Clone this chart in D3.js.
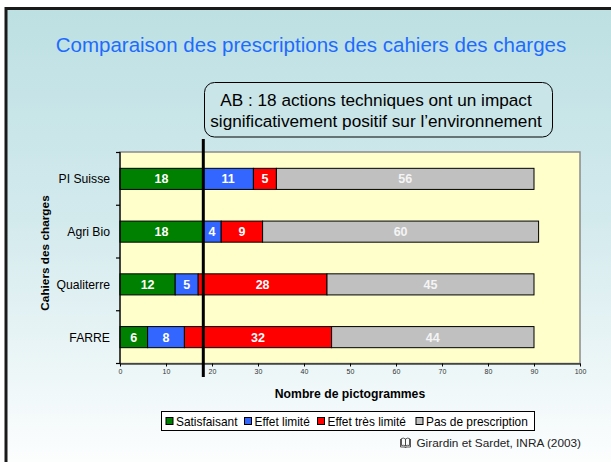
<!DOCTYPE html>
<html><head><meta charset="utf-8">
<script src="https://cdn.jsdelivr.net/npm/d3@7"></script>
<style>body{margin:0;padding:0;overflow:hidden;background:#fff}svg{display:block;font-family:Arial,"Liberation Sans",sans-serif}</style>
</head><body><svg id="c" width="611" height="462"></svg>
<script>
const categories = ["PI Suisse", "Agri Bio", "Qualiterre", "FARRE"];
const seriesNames = ["Satisfaisant", "Effet limité", "Effet très limité", "Pas de prescription"];
const satisfaisant = [18, 18, 12, 6];
const effetLimite = [11, 4, 5, 8];
const effetTresLimite = [5, 9, 28, 32];
const pasDePrescription = [56, 60, 45, 44];
const xTicks = [0, 10, 20, 30, 40, 50, 60, 70, 80, 90, 100];
const refValue = 18;
const colors = ["#008000", "#3366FF", "#FF0000", "#C0C0C0"];

const svg = d3.select("#c");
const defs = svg.append("defs");
const g = defs.append("linearGradient").attr("id","bg").attr("x1",0).attr("y1",0).attr("x2",0).attr("y2",1);
g.append("stop").attr("offset","0%").attr("stop-color","#BDE0E3");
g.append("stop").attr("offset","45%").attr("stop-color","#D3EAED");
g.append("stop").attr("offset","100%").attr("stop-color","#FFFFFF");

svg.append("rect").attr("x",0).attr("y",0).attr("width",611).attr("height",462).attr("fill","#fff");
svg.append("rect").attr("x",6).attr("y",8.5).attr("width",620).attr("height",470).attr("fill","url(#bg)")
  .attr("stroke","#1a1a1a").attr("stroke-width",3);

// title
svg.append("text").attr("x",311).attr("y",52).attr("text-anchor","middle")
  .attr("font-size",20.5).attr("fill","#1E6BFF").text("Comparaison des prescriptions des cahiers des charges");

const x = d3.scaleLinear().domain([0,100]).range([120,580]);
const y = d3.scaleBand().domain(categories).range([152.5,363.5]).paddingInner(0.6).paddingOuter(0.3);

// plot area
svg.append("rect").attr("x",x(0)).attr("y",152).attr("width",x(100)-x(0)).attr("height",211.5)
  .attr("fill","#FFFFCC").attr("stroke","#8a8a8a").attr("stroke-width",1.5);

const data = categories.map((c,i)=>({cat:c, vals:[satisfaisant[i],effetLimite[i],effetTresLimite[i],pasDePrescription[i]]}));
const segs = [];
data.forEach(d=>{ let acc=0; d.vals.forEach((v,k)=>{ segs.push({cat:d.cat,k,v,x0:acc,x1:acc+v}); acc+=v; }); });

svg.append("g").selectAll("rect").data(segs).join("rect")
  .attr("x",d=>x(d.x0)).attr("y",d=>y(d.cat)).attr("width",d=>x(d.x1)-x(d.x0)).attr("height",y.bandwidth())
  .attr("fill",d=>colors[d.k]).attr("stroke","#000").attr("stroke-width",1);

svg.append("g").selectAll("text").data(segs).join("text")
  .attr("x",d=>x((d.x0+d.x1)/2)).attr("y",d=>y(d.cat)+y.bandwidth()/2+4.5)
  .attr("text-anchor","middle").attr("font-size",12.5).attr("font-weight","bold")
  .attr("fill",d=>d.k===3?"#F4F4F4":"#fff").text(d=>d.v);

// y axis
const yAxis = svg.append("g");
yAxis.append("line").attr("x1",x(0)).attr("x2",x(0)).attr("y1",152).attr("y2",364).attr("stroke","#000").attr("stroke-width",1.2);
const bounds = [0,1,2,3].map(i=>y(categories[i])-y.step()*y.paddingInner()/2);
bounds.push(y(categories[3])+y.bandwidth()+y.step()*y.paddingInner()/2);
yAxis.selectAll("line.t").data(bounds).join("line").attr("class","t")
  .attr("x1",x(0)-4).attr("x2",x(0)).attr("y1",d=>d).attr("y2",d=>d).attr("stroke","#000").attr("stroke-width",1.2);
yAxis.selectAll("text").data(categories).join("text")
  .attr("x",110).attr("y",d=>y(d)+y.bandwidth()/2+4.5).attr("text-anchor","end")
  .attr("font-size",12.2).attr("fill","#000").text(d=>d);

svg.append("text").attr("transform","translate(49,253) rotate(-90)").attr("text-anchor","middle")
  .attr("font-size",11.8).attr("font-weight","bold").text("Cahiers des charges");

// x axis
const xa = svg.append("g").attr("transform","translate(0,363.5)")
  .call(d3.axisBottom(x).tickValues(xTicks).tickSize(3).tickSizeOuter(0).tickPadding(3));
xa.select(".domain").attr("stroke","#000").attr("stroke-width",1.2);
xa.selectAll("text").attr("font-size",7).attr("fill","#333").attr("font-family","Arial, 'Liberation Sans', sans-serif");
svg.append("text").attr("x",350).attr("y",397.5).attr("text-anchor","middle")
  .attr("font-size",12.2).attr("font-weight","bold").text("Nombre de pictogrammes");

// reference line
svg.append("line").attr("x1",x(refValue)+0.5).attr("x2",x(refValue)+0.5).attr("y1",139).attr("y2",377)
  .attr("stroke","#000").attr("stroke-width",3);

// callout
svg.append("rect").attr("x",204.5).attr("y",82.5).attr("width",348).attr("height",54.5).attr("rx",10)
  .attr("fill","#C9E5E8").attr("stroke","#000").attr("stroke-width",1);
const ct = svg.append("text").attr("text-anchor","middle").attr("font-size",17.2).attr("fill","#000");
ct.append("tspan").attr("x",376).attr("y",106).text("AB : 18 actions techniques ont un impact");
ct.append("tspan").attr("x",376).attr("y",127).text("significativement positif sur l’environnement");

// legend
const lg = svg.append("g");
lg.append("rect").attr("x",161.5).attr("y",411.5).attr("width",373).attr("height",19).attr("fill","#fff").attr("stroke","#000").attr("stroke-width",1);
const lx = [165.5, 244, 317, 415.5];
seriesNames.forEach((n,i)=>{
  lg.append("rect").attr("x",lx[i]+0.5).attr("y",417.5).attr("width",7).attr("height",7).attr("fill",colors[i]).attr("stroke","#000").attr("stroke-width",1);
  lg.append("text").attr("x",lx[i]+10.5).attr("y",425.5).attr("font-size",11.9).text(n);
});

// source with book icon
const bk = svg.append("g").attr("transform","translate(400,438)").attr("fill","none").attr("stroke","#444").attr("stroke-width",0.9);
bk.append("path").attr("d","M0.5,1 L0.5,9 L5,9 L5.5,10 L6,9 L10.5,9 L10.5,1");
bk.append("path").attr("d","M1.5,0.5 Q3.5,-0.5 5.5,1 L5.5,8 Q3.5,6.8 1.5,7.5 Z");
bk.append("path").attr("d","M9.5,0.5 Q7.5,-0.5 5.5,1 L5.5,8 Q7.5,6.8 9.5,7.5 Z");
svg.append("text").attr("x",581).attr("y",447).attr("text-anchor","end").attr("font-size",11.8).attr("fill","#222")
  .text("Girardin et Sardet, INRA (2003)");
</script></body></html>
